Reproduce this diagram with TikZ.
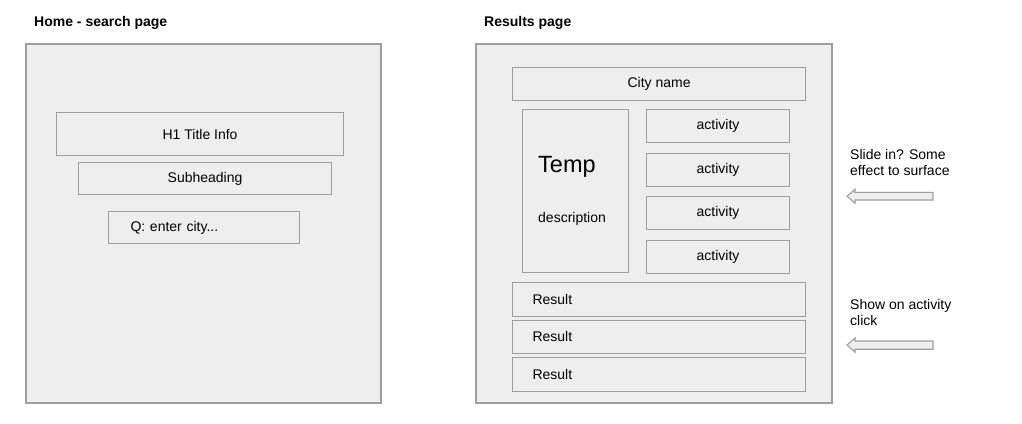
\documentclass[tikz,border=0pt]{standalone}
\usepackage{fontspec}
\setmainfont{Liberation Sans}
\definecolor{boxfill}{HTML}{EEEEEE}
\definecolor{boxline}{HTML}{9E9E9E}
\begin{document}
\begin{tikzpicture}[x=1pt,y=-1pt,
  base/.style={font=\fontsize{14}{16.5}\selectfont},
  heading/.style={font=\fontsize{14}{16.5}\selectfont\bfseries, anchor=west, inner sep=0},
  panel/.style={draw=boxline, fill=boxfill, line width=1.1pt},
  box/.style={base, draw=boxline, fill=boxfill, line width=1.1pt, inner sep=0, anchor=north west},
  note/.style={base, anchor=north west, align=left, inner sep=0},
  arrowst/.style={draw=boxline, fill=boxfill, line width=1.1pt, line join=miter}]
\useasboundingbox (0,0) rectangle (1022,423);
\fill[white] (0,0) rectangle (1022,423);

% headings
\node[heading] (h1head) at (34,23) {Home - search page};
\node[heading] (h2head) at (484,23) {Results page};

% left panel
\draw[panel] (26,44) rectangle (381,403);
\node[box, minimum width=287, minimum height=43] (title) at (56,112) {H1 Title Info};
\node[box, minimum width=253, minimum height=32] (sub) at (78,162) {Subheading};
\node[box, minimum height=32, text width=147, inner xsep=22, align=left] (q) at (108,211) {Q: enter city...};

% right panel
\draw[panel] (476,44) rectangle (832,403);
\node[box, minimum width=293, minimum height=33] (city) at (512,67) {City name};
\node[box, minimum width=106, minimum height=163] (temp) at (522,109) {};
\node[inner sep=0, anchor=west, font=\fontsize{23.5}{26}\selectfont] (templbl) at (538,166.5) {Temp};
\node[base, inner sep=0, anchor=west] (desc) at (538,219) {description};
\node[box, minimum width=143, minimum height=33] (a1) at (646,109) {activity};
\node[box, minimum width=143, minimum height=33] (a2) at (646,152.5) {activity};
\node[box, minimum width=143, minimum height=33] (a3) at (646,196) {activity};
\node[box, minimum width=143, minimum height=33] (a4) at (646,239.5) {activity};
\node[box, minimum height=33.5, text width=253, inner xsep=20, align=left] (r1) at (512,282) {Result};
\node[box, minimum height=33.5, text width=253, inner xsep=20, align=left] (r2) at (512,319.5) {Result};
\node[box, minimum height=33.5, text width=253, inner xsep=20, align=left] (r3) at (512,357) {Result};

% notes
\node[note] (n1) at (850,149) {Slide in? Some\\effect to surface};
\node[note] (n2) at (850,299) {Show on activity\\click};

% arrows
\draw[arrowst] (933,192.3) -- (855,192.3) -- (855,189.3) -- (847,196.2) -- (855,203.2) -- (855,200) -- (933,200) -- cycle;
\draw[arrowst] (933,341) -- (855,341) -- (855,338) -- (847,345) -- (855,352) -- (855,349.2) -- (933,349.2) -- cycle;
\end{tikzpicture}
\end{document}
